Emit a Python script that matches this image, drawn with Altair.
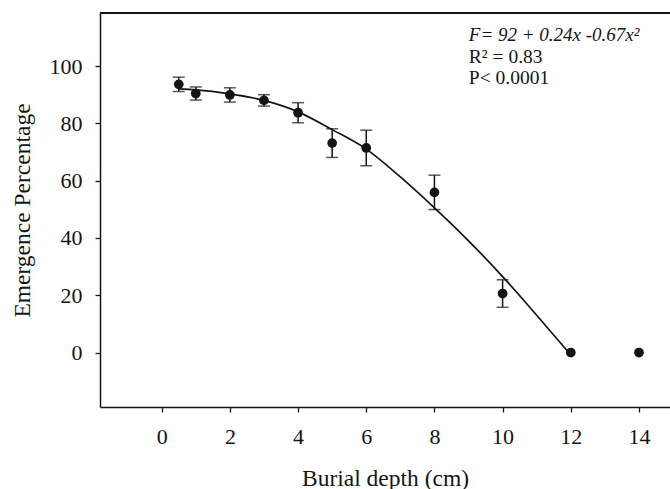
import altair as alt
import pandas as pd

# Observed means and standard errors
depth = [0.5, 1, 2, 3, 4, 5, 6, 8, 10, 12, 14]
emergence = [93.6, 90.4, 89.9, 88.0, 83.7, 73.1, 71.4, 55.9, 20.6, 0.0, 0.0]
se = [2.5, 2.3, 2.5, 2.0, 3.5, 5.0, 6.2, 6.0, 4.8, 0.0, 0.0]

# Fitted curve
fit_x = [0.5, 1, 2, 3, 4, 5, 6, 7, 8, 9, 10, 11, 12]
fit_y = [92.0, 91.7, 90.3, 88.0, 84.0, 77.8, 71.0, 61.3, 50.5, 39.0, 26.5, 13.0, -0.8]

# Annotation
ann_text = ["F= 92 + 0.24x -0.67x²", "R² = 0.83", "P< 0.0001"]
ann_x = [9.01, 9.01, 9.01]
ann_y = [108.6, 100.9, 93.7]
ann_style = ["italic", "normal", "normal"]

x_ticks = [0, 2, 4, 6, 8, 10, 12, 14]
y_ticks = [0, 20, 40, 60, 80, 100]
x_domain = [-1.81, 14.91]
y_domain = [-19.0, 118.5]

FONT = "Liberation Serif"
INK = "#141414"

pts = pd.DataFrame({"depth": depth, "emergence": emergence, "se": se})
pts["lo"] = pts["emergence"] - pts["se"]
pts["hi"] = pts["emergence"] + pts["se"]
err = pts[pts["se"] > 0]
fit = pd.DataFrame({"depth": fit_x, "emergence": fit_y})
ann = pd.DataFrame({"t": ann_text, "x": ann_x, "y": ann_y, "s": ann_style})

xs = alt.Scale(domain=x_domain, nice=False, zero=False)
ys = alt.Scale(domain=y_domain, nice=False, zero=False)

x_axis = alt.Axis(
    values=x_ticks, grid=False, domainColor=INK, domainWidth=1.5,
    tickColor=INK, tickWidth=1.3, tickSize=5, labelFont=FONT, labelFontSize=22,
    labelColor=INK, labelPadding=14, title="Burial depth (cm)", titleFont=FONT,
    titleFontSize=23.5, titleFontWeight="normal", titleColor=INK,
    titleBaseline="alphabetic", titleY=78, titleX=285,
)
y_axis = alt.Axis(
    values=y_ticks, grid=False, domainColor=INK, domainWidth=1.5,
    tickColor=INK, tickWidth=1.3, tickSize=5, labelFont=FONT, labelFontSize=22,
    labelColor=INK, labelPadding=13, title="Emergence Percentage", titleFont=FONT,
    titleFontSize=23.5, titleFontWeight="normal", titleColor=INK,
    titleAngle=270, titleBaseline="middle", titleAlign="center",
    titleX=-78, titleY=197,
)

base_x = alt.X("depth:Q", scale=xs, axis=x_axis)
base_y = alt.Y("emergence:Q", scale=ys, axis=y_axis)

line = alt.Chart(fit).mark_line(color=INK, strokeWidth=1.7, interpolate="monotone").encode(
    x=base_x, y=base_y
)
bars = alt.Chart(err).mark_rule(color=INK, strokeWidth=1.5).encode(
    x=alt.X("depth:Q", scale=xs), y=alt.Y("lo:Q", scale=ys), y2="hi:Q"
)
cap_lo = alt.Chart(err).mark_tick(color=INK, thickness=1.5, size=12, orient="horizontal").encode(
    x=alt.X("depth:Q", scale=xs), y=alt.Y("lo:Q", scale=ys)
)
cap_hi = alt.Chart(err).mark_tick(color=INK, thickness=1.5, size=12, orient="horizontal").encode(
    x=alt.X("depth:Q", scale=xs), y=alt.Y("hi:Q", scale=ys)
)
points = alt.Chart(pts).mark_point(filled=True, color=INK, size=95, opacity=1).encode(
    x=alt.X("depth:Q", scale=xs), y=alt.Y("emergence:Q", scale=ys)
)
top_border = alt.Chart(pts).mark_rule(color=INK, strokeWidth=1.5).encode(
    x=alt.value(0), x2=alt.value(570), y=alt.value(0)
)
text_n = alt.Chart(ann[ann["s"] == "normal"]).mark_text(
    align="left", baseline="alphabetic", font=FONT, fontSize=19.5, color=INK
).encode(x=alt.X("x:Q", scale=xs), y=alt.Y("y:Q", scale=ys), text="t:N")
text_i = alt.Chart(ann[ann["s"] == "italic"]).mark_text(
    align="left", baseline="alphabetic", font=FONT, fontSize=19, fontStyle="italic", color=INK
).encode(x=alt.X("x:Q", scale=xs), y=alt.Y("y:Q", scale=ys), text="t:N")

chart = (
    alt.layer(line, bars, cap_lo, cap_hi, points, top_border, text_n, text_i)
    .properties(
        width=570, height=394, autosize="none",
        padding={"left": 100, "top": 13, "right": 0, "bottom": 82},
        background="white",
    )
    .configure_view(stroke=None)
)

chart.save("out.html", embed_options={"renderer": "svg", "actions": False})
